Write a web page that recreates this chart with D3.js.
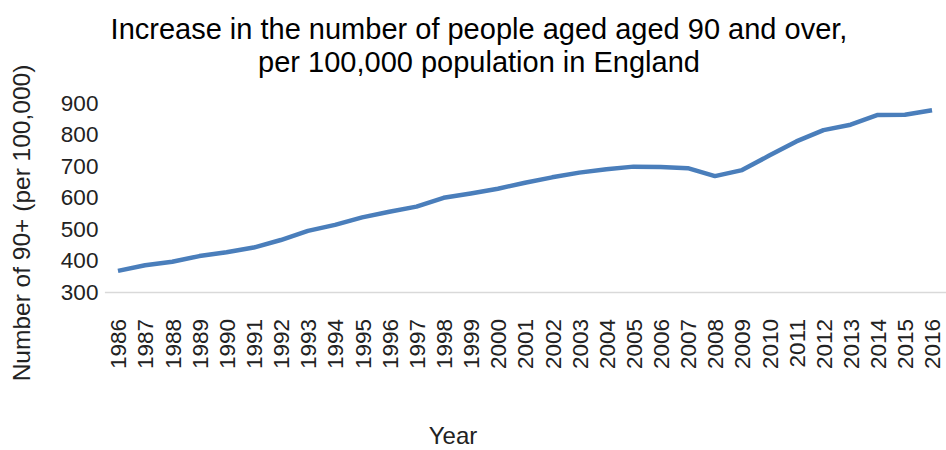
<!DOCTYPE html>
<html>
<head>
<meta charset="utf-8">
<script src="https://cdn.jsdelivr.net/npm/d3@7"></script>
<style>
  html, body { margin: 0; padding: 0; background: #ffffff; }
  svg { display: block; font-family: "Liberation Sans", Arial, sans-serif; }
</style>
</head>
<body>
<svg id="chart" width="946" height="450"></svg>
<script>
// Years on the category axis
const years = [1986, 1987, 1988, 1989, 1990, 1991, 1992, 1993, 1994, 1995,
               1996, 1997, 1998, 1999, 2000, 2001, 2002, 2003, 2004, 2005,
               2006, 2007, 2008, 2009, 2010, 2011, 2012, 2013, 2014, 2015, 2016];

// People aged 90+ per 100,000 population, England
const per100k = [367, 385, 396, 414, 426, 441, 465, 494, 513, 537,
                 555, 571, 599, 613, 628, 647, 664, 679, 690, 698,
                 697, 693, 668, 687, 733, 778, 814, 831, 862, 863, 877];

// Value axis ticks
const yTicks = [300, 400, 500, 600, 700, 800, 900];

const titleLines = ["Increase in the number of people aged aged 90 and over,",
                    "per 100,000 population in England"];
const yTitle = "Number of 90+ (per 100,000)";
const xTitle = "Year";

const svg = d3.select("#chart");

const plot = { left: 104.4, right: 945.6, top: 103, bottom: 292 };

const x = d3.scalePoint()
  .domain(years)
  .range([plot.left, plot.right])
  .padding(0.5);

const y = d3.scaleLinear()
  .domain([300, 900])
  .range([plot.bottom, plot.top]);

// Title
svg.append("g")
  .selectAll("text")
  .data(titleLines)
  .join("text")
  .attr("x", 479)
  .attr("y", (d, i) => 38.5 + i * 33)
  .attr("text-anchor", "middle")
  .attr("font-size", 29)
  .attr("fill", "#000")
  .text(d => d);

// Value axis labels (no axis line)
const yAxis = svg.append("g")
  .attr("transform", `translate(${plot.left},0)`)
  .call(d3.axisLeft(y).tickValues(yTicks).tickSize(0).tickPadding(6));
yAxis.select(".domain").remove();
yAxis.selectAll("text")
  .attr("font-size", 22.5)
  .attr("font-family", "Liberation Sans, Arial, sans-serif")
  .attr("fill", "#222");

// Category axis: baseline plus vertical year labels
const xAxis = svg.append("g")
  .attr("transform", `translate(0,${plot.bottom})`)
  .call(d3.axisBottom(x).tickSize(0).tickPadding(0));
xAxis.select(".domain")
  .attr("stroke", "#d9d9d9")
  .attr("stroke-width", 1.5);
xAxis.selectAll("text")
  .attr("font-size", 22.5)
  .attr("font-family", "Liberation Sans, Arial, sans-serif")
  .attr("fill", "#222")
  .attr("transform", "rotate(-90)")
  .attr("text-anchor", "end")
  .attr("x", -27)
  .attr("y", 0)
  .attr("dy", "0.35em");

// Series line
const line = d3.line()
  .x((d, i) => x(years[i]))
  .y(d => y(d));

svg.append("path")
  .datum(per100k)
  .attr("d", line)
  .attr("fill", "none")
  .attr("stroke", "#4a7ebb")
  .attr("stroke-width", 4.5)
  .attr("stroke-linejoin", "round")
  .attr("stroke-linecap", "butt");

// Axis titles
svg.append("text")
  .attr("transform", "translate(30,223) rotate(-90)")
  .attr("text-anchor", "middle")
  .attr("font-size", 24.5)
  .attr("fill", "#222")
  .text(yTitle);

svg.append("text")
  .attr("x", 453)
  .attr("y", 444)
  .attr("text-anchor", "middle")
  .attr("font-size", 24)
  .attr("fill", "#222")
  .text(xTitle);
</script>
</body>
</html>
